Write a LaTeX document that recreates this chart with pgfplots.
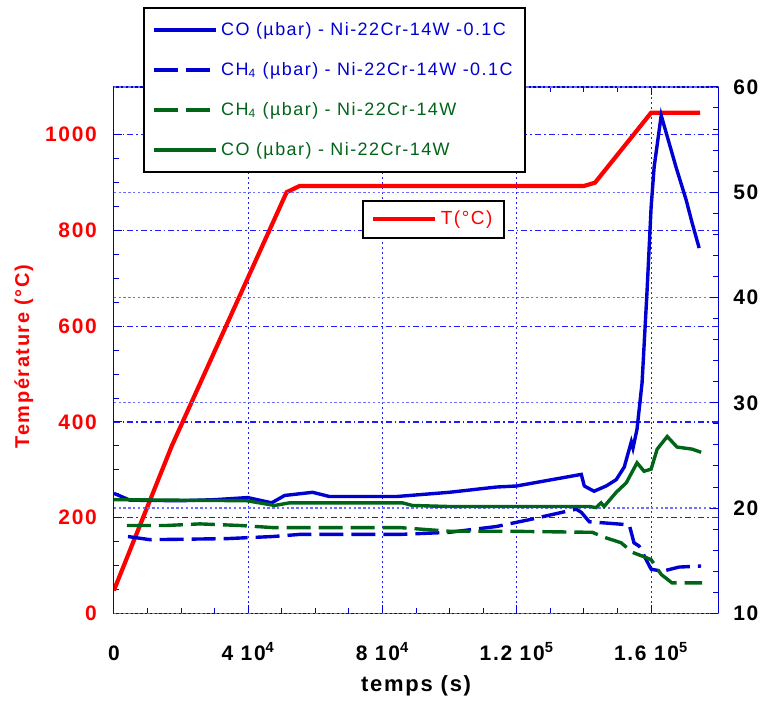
\documentclass[border=0pt]{standalone}
\usepackage{fontspec}
\setmainfont{Liberation Sans}[LetterSpace=8]
\usepackage{pgfplots}
\usepackage{pgfplotstable}
\pgfplotsset{compat=1.18}

\definecolor{cblue}{RGB}{0,0,210}
\definecolor{cgreen}{RGB}{0,100,25}
\definecolor{cred}{RGB}{255,0,0}
\definecolor{gridblue}{RGB}{30,30,255}
\definecolor{gridlight}{RGB}{110,110,255}

% temperature (left axis)
\pgfplotstableread{
t T
0 48
17250 350
51450 880
55300 893
140000 893
143300 900
160000 1046
174600 1046
}\temp

% CO, Ni-22Cr-14W-0.1C (right axis)
\pgfplotstableread{
t v
0 21.4
4800 20.75
20000 20.7
30000 20.8
39850 21.0
47000 20.5
50850 21.2
59200 21.5
64200 21.1
77000 21.1
84200 21.1
99900 21.5
113900 22.0
119900 22.1
139200 23.2
140100 22.1
143000 21.6
146600 22.1
149600 22.7
152000 23.9
154100 26.3
154600 25.7
155800 27.5
157300 31.9
158800 40.7
160000 48.6
160900 52.4
163000 57.3
167400 52.4
170400 49.3
172200 47.1
174300 44.7
}\coC

% CH4, Ni-22Cr-14W-0.1C
\pgfplotstableread{
t v
4200 17.3
10700 17.0
33600 17.1
47300 17.3
55300 17.5
85100 17.5
99900 17.7
113900 18.25
123700 18.9
137700 19.9
139200 19.6
141600 18.7
149900 18.5
153500 18.4
154900 16.7
156400 16.4
160000 14.2
163300 14.0
168300 14.4
174900 14.5
}\chC

% CH4, Ni-22Cr-14W
\pgfplotstableread{
t v
3900 18.35
15800 18.35
25600 18.5
37500 18.35
47300 18.15
85100 18.15
99900 17.8
117800 17.8
142500 17.7
145400 17.3
151100 16.7
154400 15.8
158500 15.3
160000 15.1
163000 13.7
166200 12.9
175200 12.9
}\chW

% CO, Ni-22Cr-14W
\pgfplotstableread{
t v
0 20.8
39550 20.7
47900 20.25
52300 20.5
85900 20.5
88900 20.25
99900 20.15
131700 20.15
141600 20.15
143600 20.05
145100 20.5
146000 20.15
149600 21.5
152600 22.4
155800 24.3
157900 23.5
160000 23.7
161800 25.6
164800 26.8
167700 25.8
172200 25.6
174900 25.3
}\coW

\begin{document}
\begin{tikzpicture}
\pgfplotsset{
  every axis/.append style={
    scale only axis, width=302.5pt, height=263.5pt,
    xmin=0, xmax=180000, scaled x ticks=false,
    /pgf/number format/assume math mode=true,
    /pgf/number format/1000 sep={},
    tick label style={font=\fontsize{10.5}{13}\selectfont\bfseries},
    every tick/.style={cblue, line width=0.5pt},
    major tick length=4pt, minor tick length=2.5pt,
    legend image code/.code={\draw[#1] (0pt,0pt) -- (31pt,0pt);},
  },
}
\begin{axis}[name=ax,
  ymin=0, ymax=1100,
  axis line style={cblue, line width=0.6pt},
  xtick={0,40000,80000,120000,160000},
  xticklabels={0, 4 10\textsuperscript{4}, 8 10\textsuperscript{4}, 1.2 10\textsuperscript{5}, 1.6 10\textsuperscript{5}},
  minor x tick num=3,
  xtick pos=both, xticklabel pos=lower,
  xticklabel style={anchor=base, yshift=-23.5pt},
  ytick={0,200,...,1000}, minor y tick num=3,
  ytick pos=left,
  yticklabel style={text=cred, xshift=-5pt},
  xmajorgrids, ymajorgrids,
  major grid style={draw=gridblue, line width=0.6pt},
  x grid style={draw=gridblue, dash pattern=on 1pt off 1.5pt},
  y grid style={draw=gridblue, dash pattern=on 3pt off 1.5pt on 0.8pt off 1.5pt},
  xlabel={temps (s)},
  xlabel style={font=\fontsize{11}{13}\selectfont\bfseries, anchor=base,
    at={(axis description cs:0.5,-0.148)}},
  ylabel={Température (°C)},
  ylabel style={font=\fontsize{10}{12}\selectfont\bfseries, text=cred, anchor=center,
    at={(axis description cs:-0.149,0.488)}},
  legend style={at={(0.41,0.7856)}, anchor=north west, draw=black, line width=1pt,
    fill=white, font=\fontsize{9.5}{11}\selectfont, inner xsep=4pt, inner ysep=3pt},
]
\addplot[cred, line width=2.1pt] table[x=t, y=T] {\temp};
\addlegendentry{\textcolor{cred}{T(°C)}}
\end{axis}

\begin{axis}[
  ymin=10, ymax=60,
  hide x axis,
  axis y line*=right,
  y axis line style={cblue, line width=0.6pt},
  ytick={10,20,...,60}, minor y tick num=4,
  yticklabel style={text=black, xshift=4pt},
  ymajorgrids,
  major grid style={draw=gridlight, line width=0.6pt},
  y grid style={draw=gridlight, dash pattern=on 1.2pt off 1.2pt},
  legend cell align=left,
  legend style={at={(0.048,1.1518)}, anchor=north west, draw=black, line width=1pt,
    fill=white, font=\fontsize{9}{11}\selectfont, row sep=8pt,
    inner xsep=4pt, inner ysep=5pt},
]
\addplot[cblue, line width=1.7pt] table[x=t, y=v] {\coC};
\addlegendentry{\textcolor{cblue}{CO (µbar) - Ni-22Cr-14W -0.1C}}
\addplot[cblue, line width=1.7pt, dash pattern=on 12pt off 4pt] table[x=t, y=v] {\chC};
\addlegendentry{\textcolor{cblue}{CH\textsubscript{4} (µbar) - Ni-22Cr-14W -0.1C}}
\addplot[cgreen, line width=1.7pt, dash pattern=on 12pt off 4pt] table[x=t, y=v] {\chW};
\addlegendentry{\textcolor{cgreen}{CH\textsubscript{4} (µbar) - Ni-22Cr-14W}}
\addplot[cgreen, line width=1.7pt] table[x=t, y=v] {\coW};
\addlegendentry{\textcolor{cgreen}{CO (µbar) - Ni-22Cr-14W}}
\end{axis}

\path ([shift={(-57pt,-42.5pt)}]ax.south west) rectangle ([shift={(23pt,43.5pt)}]ax.north east);
\end{tikzpicture}
\end{document}
